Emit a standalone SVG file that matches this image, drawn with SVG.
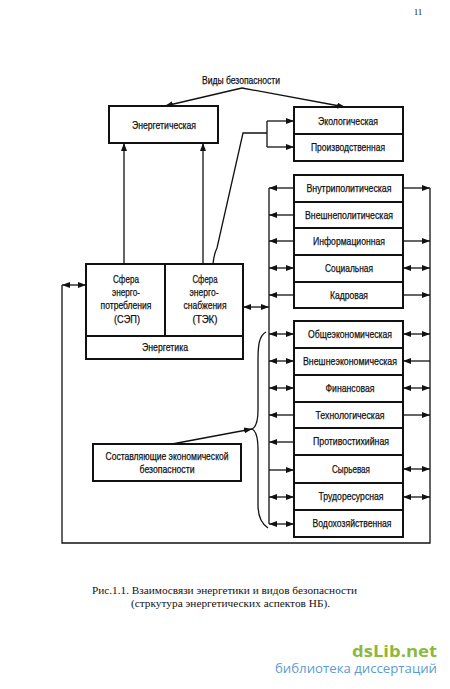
<svg xmlns="http://www.w3.org/2000/svg" width="450" height="689" viewBox="0 0 450 689">
<defs>
<marker id="ah" viewBox="0 0 8 6" markerWidth="8" markerHeight="6" refX="8" refY="3" orient="auto-start-reverse" markerUnits="userSpaceOnUse">
<path d="M0,0 L8,3 L0,6 z" fill="#111"/>
</marker>
<style>
.box{fill:#fff;stroke:#111;stroke-width:2}
.t{font-family:"Liberation Sans Narrow","Liberation Sans",Arial,sans-serif;font-size:11px;fill:#111;stroke:#111;stroke-width:0.25;text-anchor:middle}
.c{fill:none;stroke:#111;stroke-width:1.3}
.a{fill:none;stroke:#111;stroke-width:1.3;marker-end:url(#ah)}
.b{fill:none;stroke:#111;stroke-width:1.3;marker-start:url(#ah);marker-end:url(#ah)}
.cap{font-family:"Liberation Serif","Times New Roman",serif;font-size:10.5px;fill:#111}
</style>
</defs>
<rect width="450" height="689" fill="#fff"/>
<text x="418" y="15" font-family="Liberation Serif,serif" font-size="9" fill="#111" text-anchor="middle">11</text>

<g id="title"><text class="t" x="241" y="84" textLength="78" lengthAdjust="spacingAndGlyphs">Виды безопасности</text></g>

<g id="energeticheskaya"><rect class="box" x="109" y="106" width="109" height="37"/><text class="t" x="164" y="129" textLength="64" lengthAdjust="spacingAndGlyphs">Энергетическая</text></g>
<g id="ekologicheskaya"><rect class="box" x="294" y="107" width="109" height="27"/><text class="t" x="348" y="125" textLength="60" lengthAdjust="spacingAndGlyphs">Экологическая</text></g>
<g id="proizvodstvennaya"><rect class="box" x="294" y="134" width="109" height="27"/><text class="t" x="348" y="151" textLength="74" lengthAdjust="spacingAndGlyphs">Производственная</text></g>

<g id="sep"><rect class="box" x="86" y="264" width="79" height="72"/>
<text class="t" x="126" y="283" textLength="26" lengthAdjust="spacingAndGlyphs">Сфера</text>
<text class="t" x="126" y="296" textLength="28" lengthAdjust="spacingAndGlyphs">энерго-</text>
<text class="t" x="126" y="309" textLength="51" lengthAdjust="spacingAndGlyphs">потребления</text>
<text class="t" x="127" y="323" textLength="26" lengthAdjust="spacingAndGlyphs">(СЭП)</text></g>
<g id="tek"><rect class="box" x="165" y="264" width="78" height="72"/>
<text class="t" x="205" y="283" textLength="25" lengthAdjust="spacingAndGlyphs">Сфера</text>
<text class="t" x="204" y="296" textLength="29" lengthAdjust="spacingAndGlyphs">энерго-</text>
<text class="t" x="205" y="309" textLength="43" lengthAdjust="spacingAndGlyphs">снабжения</text>
<text class="t" x="205" y="323" textLength="25" lengthAdjust="spacingAndGlyphs">(ТЭК)</text></g>
<g id="energetika"><rect class="box" x="86" y="336" width="157" height="23"/><text class="t" x="165" y="351" textLength="46" lengthAdjust="spacingAndGlyphs">Энергетика</text></g>

<g id="sostavlyayushchie"><rect class="box" x="93" y="444" width="148" height="37"/>
<text class="t" x="167" y="460" textLength="123" lengthAdjust="spacingAndGlyphs">Составляющие экономической</text>
<text class="t" x="167" y="473" textLength="55" lengthAdjust="spacingAndGlyphs">безопасности</text></g>

<g id="vnutripoliticheskaya"><rect class="box" x="294" y="175" width="109" height="27"/><text class="t" x="349" y="192" textLength="85" lengthAdjust="spacingAndGlyphs">Внутриполитическая</text></g>
<g id="vneshnepoliticheskaya"><rect class="box" x="294" y="202" width="109" height="26"/><text class="t" x="349" y="219" textLength="88" lengthAdjust="spacingAndGlyphs">Внешнеполитическая</text></g>
<g id="informatsionnaya"><rect class="box" x="294" y="228" width="109" height="27"/><text class="t" x="349" y="245" textLength="72" lengthAdjust="spacingAndGlyphs">Информационная</text></g>
<g id="sotsialnaya"><rect class="box" x="294" y="255" width="109" height="27"/><text class="t" x="349" y="272" textLength="48" lengthAdjust="spacingAndGlyphs">Социальная</text></g>
<g id="kadrovaya"><rect class="box" x="294" y="282" width="109" height="26"/><text class="t" x="349" y="299" textLength="38" lengthAdjust="spacingAndGlyphs">Кадровая</text></g>

<g id="obshcheekonomicheskaya"><rect class="box" x="294" y="321" width="109" height="27"/><text class="t" x="350" y="338" textLength="84" lengthAdjust="spacingAndGlyphs">Общеэкономическая</text></g>
<g id="vneshneekonomicheskaya"><rect class="box" x="294" y="348" width="109" height="27"/><text class="t" x="350" y="365" textLength="94" lengthAdjust="spacingAndGlyphs">Внешнеэкономическая</text></g>
<g id="finansovaya"><rect class="box" x="294" y="375" width="109" height="27"/><text class="t" x="350" y="392" textLength="49" lengthAdjust="spacingAndGlyphs">Финансовая</text></g>
<g id="tekhnologicheskaya"><rect class="box" x="294" y="402" width="109" height="26"/><text class="t" x="350" y="419" textLength="69" lengthAdjust="spacingAndGlyphs">Технологическая</text></g>
<g id="protivostikhiynaya"><rect class="box" x="294" y="428" width="109" height="27"/><text class="t" x="351" y="445" textLength="76" lengthAdjust="spacingAndGlyphs">Противостихийная</text></g>
<g id="syrevaya"><rect class="box" x="294" y="455" width="109" height="28"/><text class="t" x="351" y="473" textLength="38" lengthAdjust="spacingAndGlyphs">Сырьевая</text></g>
<g id="trudoresursnaya"><rect class="box" x="294" y="483" width="109" height="27"/><text class="t" x="351" y="500" textLength="65" lengthAdjust="spacingAndGlyphs">Трудоресурсная</text></g>
<g id="vodokhozyaystvennaya"><rect class="box" x="294" y="510" width="109" height="27"/><text class="t" x="352" y="527" textLength="79" lengthAdjust="spacingAndGlyphs">Водохозяйственная</text></g>

<g id="connectors">
<path class="a" d="M242,88 L165,106"/>
<path class="a" d="M242,88 L345,107"/>
<path class="a" d="M124,264 L124,143"/>
<path class="a" d="M203,264 L203,143"/>
<path class="c" d="M213,264 Q214,254 217,248 L243,133 L267,133"/>
<path class="c" d="M267,121 L267,147"/>
<path class="a" d="M267,121 L294,121"/>
<path class="a" d="M267,147 L294,147"/>
<path class="c" d="M62,285 L62,543 L430,543 L430,188"/>
<path class="b" d="M62,285 L86,285"/>
<path class="b" d="M243,307 L269,307"/>
<path class="c" d="M269,188 L269,524"/>
<path class="a" d="M294,188 L269,188"/>
<path class="a" d="M294,215 L269,215"/>
<path class="a" d="M294,241 L269,241"/>
<path class="b" d="M269,268 L294,268"/>
<path class="a" d="M294,295 L269,295"/>
<path class="a" d="M403,188 L430,188"/>
<path class="a" d="M403,241 L430,241"/>
<path class="b" d="M403,268 L430,268"/>
<path class="a" d="M403,295 L430,295"/>
<path class="b" d="M269,334 L294,334"/>
<path class="b" d="M269,361 L294,361"/>
<path class="b" d="M269,388 L294,388"/>
<path class="a" d="M294,415 L269,415"/>
<path class="a" d="M294,442 L269,442"/>
<path class="a" d="M269,470 L294,470"/>
<path class="b" d="M269,497 L294,497"/>
<path class="b" d="M269,524 L294,524"/>
<path class="b" d="M403,334 L430,334"/>
<path class="a" d="M430,361 L403,361"/>
<path class="b" d="M403,388 L430,388"/>
<path class="a" d="M403,415 L430,415"/>
<path class="b" d="M403,469 L430,469"/>
<path class="b" d="M403,497 L430,497"/>
<path class="c" d="M266,332 C259,336 258,345 258,360 L258,410 C258,422 256,427 252,429 C256,431 258,437 258,449 L258,505 C258,518 262,524 268,528"/>
<path class="a" d="M172,444 L252,429"/>
</g>

<g id="caption">
<text class="cap" x="92" y="594" textLength="265" lengthAdjust="spacingAndGlyphs">Рис.1.1. Взаимосвязи энергетики и видов безопасности</text>
<text class="cap" x="131" y="607" textLength="199" lengthAdjust="spacingAndGlyphs">(стркутура энергетических аспектов НБ).</text>
</g>
<g id="watermark">
<text x="437" y="657" text-anchor="end" font-family="Open Sans,Liberation Sans,sans-serif" font-weight="bold" font-size="16" fill="#8db83c" textLength="85" lengthAdjust="spacingAndGlyphs">dsLib.net</text>
<text x="437" y="673" text-anchor="end" font-family="Open Sans,Liberation Sans,sans-serif" font-size="12" fill="#5b9bd1" textLength="162" lengthAdjust="spacingAndGlyphs">библиотека диссертаций</text>
</g>
</svg>
